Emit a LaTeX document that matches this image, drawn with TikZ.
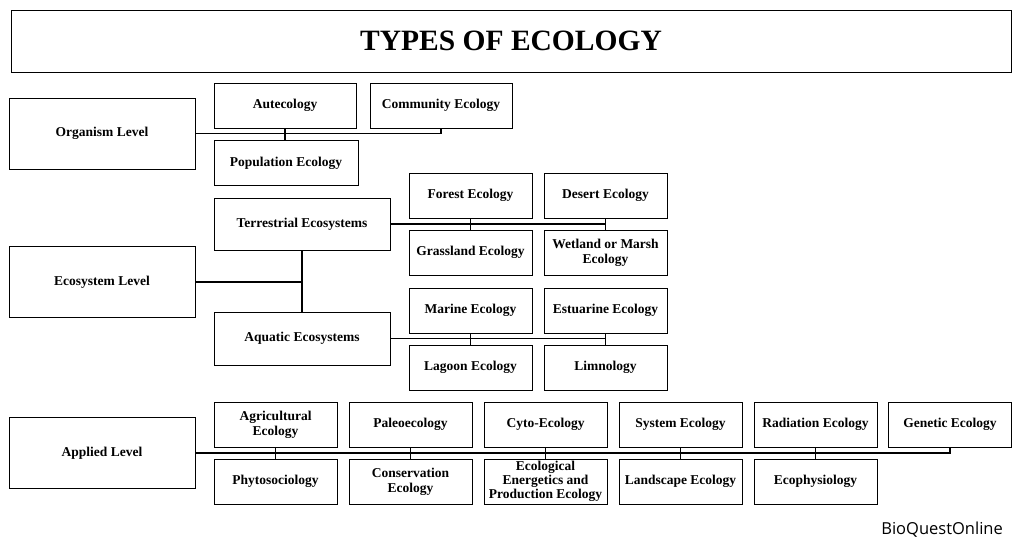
\documentclass[tikz,border=0pt]{standalone}
\usepackage{fontspec}
\setmainfont{Liberation Serif}
\newfontfamily\markfont{Open Sans}
\usetikzlibrary{positioning}

\tikzset{
    box/.style={draw, line width=0.9pt, align=center, inner sep=0pt,
        font=\bfseries\fontsize{13.5}{14.8}\selectfont},
    level/.style={box, minimum width=186pt, minimum height=71pt},
    sub/.style={box, minimum width=123pt, minimum height=45pt},
    wide/.style={box, minimum width=142pt, minimum height=45pt},
    eco/.style={box, minimum width=176pt, minimum height=52pt},
    link/.style={draw, line width=1.4pt}
}

\begin{document}
\begin{tikzpicture}[x=1pt,y=-1pt]
        \useasboundingbox (0,0) rectangle (1024,545);
        \node [draw, line width=0.9pt, minimum width=1000pt, minimum height=62pt,
            font=\bfseries\fontsize{29.5}{31}\selectfont] (title) at (511,41) {TYPES OF ECOLOGY};
        % organism level
        \node [level] (org) at (102,133.5) {Organism Level};
        \node [wide] (aut) at (285,105.5) {Autecology};
        \node [wide] (com) at (441,105.5) {Community Ecology};
        \node [wide, minimum width=144pt] (pop) at (286,163) {Population Ecology};
        % ecosystem level
        \node [level] (ecs) at (102,282) {Ecosystem Level};
        \node [eco] (ter) at (302,224) {Terrestrial Ecosystems};
        \node [eco, minimum height=53pt] (aqu) at (302,338.5) {Aquatic Ecosystems};
        \node [sub] (for) at (470.5,195.5) {Forest Ecology};
        \node [sub] (des) at (605.5,195.5) {Desert Ecology};
        \node [sub] (gra) at (470.5,252.5) {Grassland Ecology};
        \node [sub] (wet) at (605.5,252.5) {Wetland or Marsh\\Ecology};
        \node [sub] (mar) at (470.5,310.5) {Marine Ecology};
        \node [sub] (est) at (605.5,310.5) {Estuarine Ecology};
        \node [sub] (lag) at (470.5,367.5) {Lagoon Ecology};
        \node [sub] (lim) at (605.5,367.5) {Limnology};
        % applied level
        \node [level] (app) at (102,453) {Applied Level};
        \node [sub] (agr) at (275.5,424.5) {Agricultural\\Ecology};
        \node [sub] (pal) at (410.5,424.5) {Paleoecology};
        \node [sub] (cyt) at (545.5,424.5) {Cyto-Ecology};
        \node [sub] (sys) at (680.5,424.5) {System Ecology};
        \node [sub] (rad) at (815.5,424.5) {Radiation Ecology};
        \node [sub] (gen) at (950,424.5) {Genetic Ecology};
        \node [sub] (phy) at (275.5,481.5) {Phytosociology};
        \node [sub] (con) at (410.5,481.5) {Conservation\\Ecology};
        \node [sub, font=\bfseries\fontsize{13.5}{14}\selectfont] (ene) at (545.5,481.5) {Ecological\\Energetics and\\Production Ecology};
        \node [sub] (lan) at (680.5,481.5) {Landscape Ecology};
        \node [sub] (eph) at (815.5,481.5) {Ecophysiology};
        \node [font=\markfont\fontsize{16.5}{18}\selectfont, anchor=east, inner sep=0pt] (mark) at (1003,530) {BioQuestOnline};
        % connectors
        \path[link]
            (org.east) -- (org.east -| com.south) -- (com.south)
            (aut.south) -- (pop.north -| aut.south)
            (ecs.east) -- (ecs.east -| ter.south)
            (ter.south) -- (aqu.north)
            (ter.east) -- (ter.east -| des.south)
            (for.south) -- (gra.north)
            (des.south) -- (wet.north)
            (aqu.east) -- (aqu.east -| est.south)
            (mar.south) -- (lag.north)
            (est.south) -- (lim.north)
            (app.east) -- (app.east -| gen.south) -- (gen.south);
        \foreach \a/\b in {agr/phy, pal/con, cyt/ene, sys/lan, rad/eph}
            \draw [link] (\a.south) -- (\b.north);
    \end{tikzpicture}
\end{document}
